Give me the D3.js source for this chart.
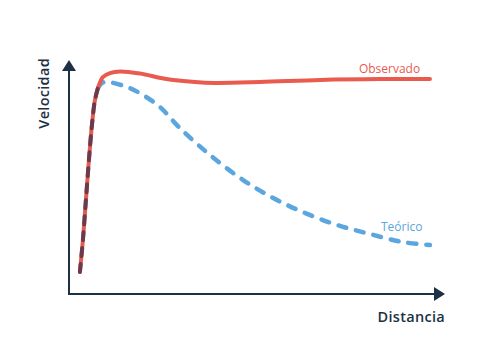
<!DOCTYPE html>
<html>
<head>
<meta charset="utf-8">
<script src="https://cdn.jsdelivr.net/npm/d3@7"></script>
<style>
  body { margin: 0; background: #fff; }
  text { font-family: "Open Sans", sans-serif; }
</style>
</head>
<body>
<div id="chart"></div>
<script>
// shared rising segment (both curves overlap here)
const rise = [
  [2.9, 9.4], [3.7, 23.1], [4.5, 40.2], [5.3, 57.3],
  [6.1, 72.2], [6.9, 82.9], [7.7, 88.0]
];
const observado = [
  [7.7, 88.0], [9.0, 92.7], [10.9, 94.4], [13.6, 95.1], [18.9, 94.2],
  [25.5, 92.0], [33.5, 90.6], [38.8, 90.2], [50.8, 90.6], [66.8, 91.5],
  [82.7, 91.9], [96.0, 91.9]
];
const teorico = [
  [7.7, 88.0], [8.8, 90.2], [10.1, 90.6], [15.4, 88.5], [19.7, 85.0],
  [24.2, 79.9], [29.5, 70.9], [37.5, 59.4], [46.3, 48.7], [54.3, 41.0],
  [62.2, 35.0], [71.3, 29.5], [80.1, 25.6], [88.8, 22.2], [96.0, 20.9]
];
const labels = { x: "Distancia", y: "Velocidad", obs: "Observado", teo: "Teórico" };

const width = 480, height = 360;
const margin = { top: 60, right: 35, bottom: 66, left: 69 };

const svg = d3.select('#chart').append('svg')
  .attr('width', width)
  .attr('height', height);

const x = d3.scaleLinear().domain([0, 100]).range([margin.left, width - margin.right]);
const y = d3.scaleLinear().domain([0, 100]).range([height - margin.bottom, margin.top]);

const axisColor = '#1d3145';
const red = '#e95b4f';
const blue = '#5ba6de';

// axes with arrow heads
const x0 = x(0), y0 = y(0), xEnd = x(100), yEnd = y(100);
svg.append('line')
  .attr('x1', x0).attr('y1', y0 + 1)
  .attr('x2', x0).attr('y2', yEnd + 8)
  .attr('stroke', axisColor).attr('stroke-width', 2);
svg.append('line')
  .attr('x1', x0 - 1).attr('y1', y0)
  .attr('x2', xEnd - 8).attr('y2', y0)
  .attr('stroke', axisColor).attr('stroke-width', 2);
svg.append('path')
  .attr('d', `M${x0},${yEnd} L${x0 + 7},${yEnd + 11} L${x0 - 7},${yEnd + 11} Z`)
  .attr('fill', axisColor);
svg.append('path')
  .attr('d', `M${xEnd},${y0} L${xEnd - 11},${y0 - 7} L${xEnd - 11},${y0 + 7} Z`)
  .attr('fill', axisColor);

const line = d3.line()
  .x(d => x(d[0]))
  .y(d => y(d[1]))
  .curve(d3.curveCatmullRom.alpha(0.5));

svg.append('path')
  .attr('d', line(teorico))
  .attr('fill', 'none')
  .attr('stroke', blue)
  .attr('stroke-width', 4.5)
  .attr('stroke-linecap', 'round')
  .attr('stroke-dasharray', '8,10');

svg.append('path')
  .attr('d', line(rise.concat(observado.slice(1))))
  .attr('fill', 'none')
  .attr('stroke', red)
  .attr('stroke-width', 4)
  .attr('stroke-linecap', 'round');

svg.append('path')
  .attr('d', line(rise))
  .attr('fill', 'none')
  .attr('stroke', '#6a3b4c')
  .attr('stroke-width', 4)
  .attr('stroke-linecap', 'round')
  .attr('stroke-dasharray', '8,8');

// series labels
svg.append('text')
  .attr('x', x(93.4)).attr('y', y(94) - 1)
  .attr('text-anchor', 'end')
  .attr('fill', red)
  .style('font-size', '12px')
  .text(labels.obs);

svg.append('text')
  .attr('x', x(94)).attr('y', y(27))
  .attr('text-anchor', 'end')
  .attr('fill', blue)
  .style('font-size', '12px')
  .text(labels.teo);

// axis titles
svg.append('text')
  .attr('x', xEnd).attr('y', y0 + 28)
  .attr('text-anchor', 'end')
  .attr('fill', axisColor)
  .style('font-size', '14.5px')
  .style('font-weight', 600)
  .style('letter-spacing', '0.3px')
  .text(labels.x);

svg.append('text')
  .attr('transform', `translate(${x0 - 20},${yEnd - 2}) rotate(-90)`)
  .attr('text-anchor', 'end')
  .attr('fill', axisColor)
  .style('font-size', '14.5px')
  .style('font-weight', 600)
  .style('letter-spacing', '0.3px')
  .text(labels.y);
</script>
</body>
</html>
